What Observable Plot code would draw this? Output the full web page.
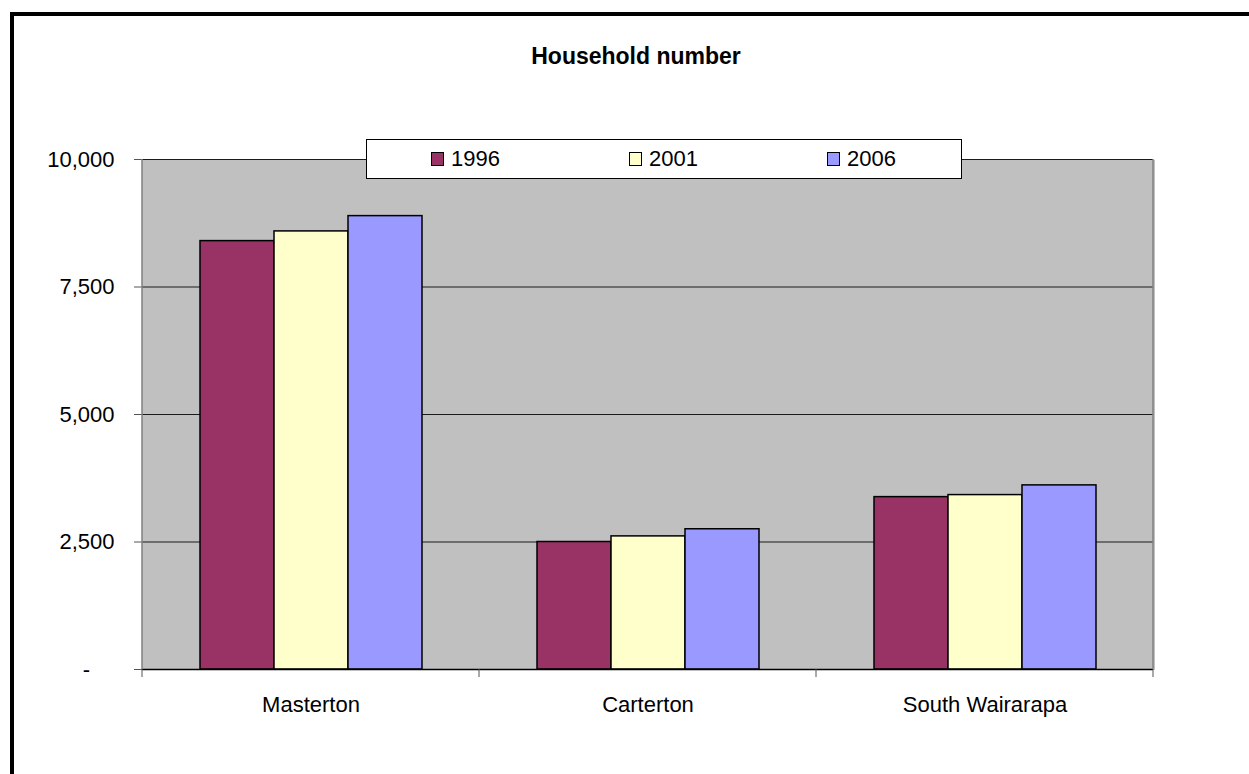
<!DOCTYPE html>
<html>
<head>
<meta charset="utf-8">
<script src="https://cdn.jsdelivr.net/npm/d3@7"></script>
<script src="https://cdn.jsdelivr.net/npm/@observablehq/plot@0.6"></script>
<style>
  html, body { margin: 0; padding: 0; background: #fff; overflow: hidden; }
  #wrap { position: relative; width: 1249px; height: 774px; overflow: hidden; background: #fff; font-family: "Liberation Sans", Arial, sans-serif; }
  #bleft { position: absolute; left: 10px; top: 12px; width: 4px; height: 762px; background: #000; }
  #btop { position: absolute; left: 10px; top: 12px; width: 1239px; height: 4px; background: #000; }
  #title { position: absolute; left: 436px; top: 45px; width: 400px; text-align: center; font-weight: bold; font-size: 23px; line-height: 1; color: #000; }
  #chart { position: absolute; left: 0; top: 0; }
  #legend { position: absolute; left: 366px; top: 139px; width: 596px; height: 40px; box-sizing: border-box; border: 1px solid #000; background: #fff; display: flex; z-index: 5; }
  .item { flex: 1; display: flex; align-items: center; padding-left: 64px; font-size: 22px; line-height: 22px; color: #000; }
  .sw { width: 13px; height: 14px; box-sizing: border-box; border: 1px solid #000; margin-right: 7px; }
</style>
</head>
<body>
<div id="wrap">
  <div id="bleft"></div>
  <div id="btop"></div>
  <div id="title">Household number</div>
  <div id="chart"></div>
  <div id="legend"></div>
</div>
<script>
const cities = ["Masterton", "Carterton", "South Wairarapa"];
const years = ["1996", "2001", "2006"];
const v1996 = [8400, 2500, 3380];
const v2001 = [8590, 2610, 3420];
const v2006 = [8890, 2750, 3610];
const colors = ["#993366", "#FFFFCC", "#9999FF"];
const yTicks = [0, 2500, 5000, 7500, 10000];

const series = [v1996, v2001, v2006];
const data = cities.flatMap((c, i) => years.map((y, j) => ({city: c, year: y, value: series[j][i]})));

const W = 1249, H = 774, ML = 142, MR = 96, MT = 159, MB = 105;

const chart = Plot.plot({
  width: W, height: H,
  marginLeft: ML, marginRight: MR, marginTop: MT, marginBottom: MB,
  style: {background: "transparent", fontFamily: "'Liberation Sans', Arial, sans-serif", fontSize: "22px", color: "#000"},
  fx: {domain: cities, padding: 0, axis: null},
  x: {domain: years, paddingInner: 0, paddingOuter: 0.75, axis: null},
  y: {domain: [0, 10000], axis: null},
  color: {domain: years, range: colors},
  marks: [
    Plot.frame({fill: "#c0c0c0", stroke: null, insetLeft: -1, insetRight: -1, shapeRendering: "crispEdges"}),
    Plot.ruleY(yTicks.slice(1), {stroke: "#1a1a1a", strokeWidth: 1}),
    Plot.barY(data, {fx: "city", x: "year", y: "value", fill: "year", stroke: "#000", strokeWidth: 1.5}),
    Plot.ruleY([0], {stroke: "#000", strokeWidth: 1.5}),
    Plot.axisY({
      ticks: yTicks, tickSize: 8, tickPadding: 20, fontSize: 22, stroke: "#555", fill: "#000", label: null,
      tickFormat: d => d === 0 ? "-\u2007\u2007" : d3.format(",")(d)
    }),
    Plot.axisFx({anchor: "bottom", tickSize: 0, tickPadding: 27, fontSize: 22, fill: "#000", label: null})
  ]
});
document.getElementById("chart").appendChild(chart);

// plot-area edges and category boundary ticks
const svg = d3.select(chart);
const baseY = H - MB, facetW = (W - ML - MR) / cities.length;
const g = svg.append("g");
[ML, W - MR].forEach(x => g.append("line").attr("x1", x).attr("x2", x).attr("y1", MT).attr("y2", baseY).attr("stroke", "#808080").attr("stroke-width", 1.5));
d3.range(cities.length + 1).forEach(i => {
  const x = ML + i * facetW;
  g.append("line").attr("x1", x).attr("x2", x).attr("y1", baseY).attr("y2", baseY + 8).attr("stroke", "#555").attr("stroke-width", 1);
});

// legend
const legend = d3.select("#legend");
years.forEach((y, i) => {
  const it = legend.append("div").attr("class", "item");
  it.append("div").attr("class", "sw").style("background", colors[i]);
  it.append("span").text(y);
});
</script>
</body>
</html>
